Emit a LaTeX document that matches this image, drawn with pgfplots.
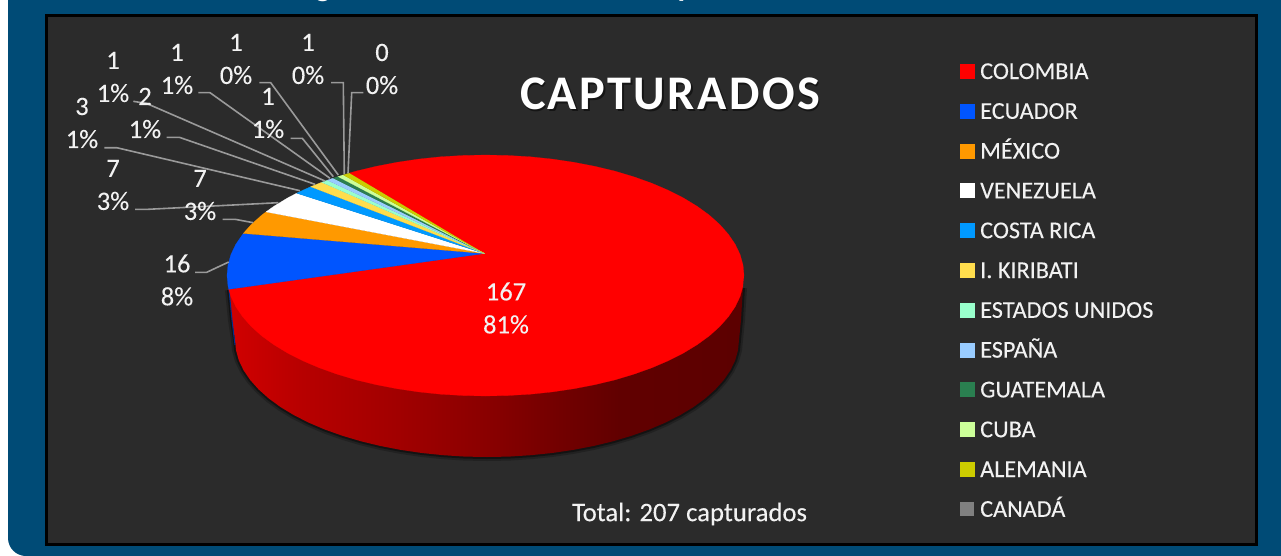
\documentclass[border=0pt]{standalone}
\usepackage{fontspec}
\setmainfont[UprightFeatures={FakeBold=0.12}]{Carlito}
\newfontfamily\titlefont[LetterSpace=5]{Carlito}
\usepackage{pgfplots}
\usepackage{pgfplotstable}
\pgfplotsset{compat=1.18}

\definecolor{navy}{HTML}{004B76}
\definecolor{panel}{HTML}{2B2B2B}
\definecolor{leader}{HTML}{9A9A9A}
\definecolor{txt}{HTML}{F2F2F2}
\definecolor{cColombia}{HTML}{FF0000}
\definecolor{cEcuador}{HTML}{0055FF}
\definecolor{cMexico}{HTML}{FF9900}
\definecolor{cVenezuela}{HTML}{FFFFFF}
\definecolor{cCosta}{HTML}{0099FF}
\definecolor{cKiribati}{HTML}{FFDD4D}
\definecolor{cEEUU}{HTML}{99FFCC}
\definecolor{cEspana}{HTML}{99CCFF}
\definecolor{cGuatemala}{HTML}{2A7F50}
\definecolor{cCuba}{HTML}{CCFF99}
\definecolor{cAlemania}{HTML}{CCCC00}
\definecolor{cCanada}{HTML}{808080}

\pgfdeclarehorizontalshading{sidered}{100bp}{
  color(0bp)=(red!82!black); color(25bp)=(red!82!black);
  color(32bp)=(red!72!black); color(41.6bp)=(red!63!black);
  color(50bp)=(red!54!black); color(57bp)=(red!45!black);
  color(63bp)=(red!38!black); color(75bp)=(red!36!black); color(100bp)=(red!36!black)}

% side wall of the pie, pixel coordinates of the picture
\pgfplotstableread{
x y
229 290
232 320
235 340
236 350.2
238.8 360.3
243.6 370.3
250.2 380
258.6 389.4
268.8 398.5
280.6 407.1
294 415.2
308.8 422.7
325 429.6
342.5 435.8
361 441.3
380.5 446
400.8 449.9
421.8 453
443.2 455.2
465 456.6
487 457
509 456.6
530.8 455.2
552.2 453
573.2 449.9
593.5 446
613 441.3
631.5 435.8
649 429.6
665.2 422.7
680 415.2
693.4 407.1
705.2 398.5
715.4 389.4
723.8 380
730.4 370.3
735.2 360.3
738 350.2
739 340
741 320
742 303
743 288
}\sidewall

% top face: Colombia, the whole ellipse, the other slices lie over it
\pgfplotstableread{
x y
744 275.5
743 265
740.1 254.6
735.2 244.3
728.4 234.3
719.8 224.6
709.4 215.2
697.3 206.4
683.5 198
668.3 190.3
651.7 183.2
633.8 176.8
614.8 171.1
594.7 166.3
573.9 162.3
552.4 159.1
530.4 156.8
508 155.5
485.5 155
463 155.5
440.6 156.8
418.6 159.1
397.1 162.3
376.3 166.3
356.2 171.1
349.3 173.1
484.5 253.5
228.7 289.3
230.9 296.4
235.8 306.7
242.6 316.7
251.2 326.4
261.6 335.8
273.7 344.6
287.5 353
302.7 360.7
319.3 367.8
337.2 374.2
356.2 379.9
376.3 384.7
397.1 388.7
418.6 391.9
440.6 394.2
463 395.5
485.5 396
508 395.5
530.4 394.2
552.4 391.9
573.9 388.7
594.7 384.7
614.8 379.9
633.8 374.2
651.7 367.8
668.3 360.7
683.5 353
697.3 344.6
709.4 335.8
719.8 326.4
728.4 316.7
735.2 306.7
740.1 296.4
743 286
}\colombia

\newcommand{\val}[4]{\node[font=\fontsize{26.5bp}{33bp}\selectfont, text=txt, align=center] at (axis cs:#1,#2) {#3\\#4};}
\newcommand{\slice}[2]{\addplot[fill=#1, draw=#1, line width=0.2bp] coordinates {#2};}
\newcommand{\leaderline}[1]{\addplot[leader, line width=1.6bp, forget plot] coordinates {#1};}

\begin{document}
\begin{tikzpicture}
\begin{axis}[
  scale only axis, width=1281bp, height=556bp,
  xmin=0, xmax=1281, ymin=0, ymax=556, y dir=reverse,
  hide axis, clip=true,
  legend image code/.code={\fill[#1] (0bp,-4.5bp) rectangle (14bp,9.5bp);},
  legend cell align=left,
  legend style={at={(axis cs:960,63)}, anchor=north west, draw=none, fill=none,
    inner sep=0pt, outer sep=0pt, row sep=18.8bp, column sep=6bp, text=txt,
    font=\fontsize{24.2bp}{26bp}\selectfont,
    nodes={inner sep=0pt, outer sep=0pt, text height=16bp, text depth=5bp}},
]
% page, frame and dark panel
\fill[white] (axis cs:0,0) rectangle (axis cs:1281,556);
\fill[navy, rounded corners=18bp] (axis cs:8,-40) rectangle (axis cs:1340,556);
\fill[navy] (axis cs:8,-40) rectangle (axis cs:40,500);
\fill[navy] (axis cs:40,-40) rectangle (axis cs:1281,556);
\draw[panel, fill=panel, draw=black, line width=3bp] (axis cs:46.5,15.3) rectangle (axis cs:1256.3,544);

% cut-off line of text above the frame
\begin{scope}
  \clip (axis cs:0,0) rectangle (axis cs:1281,4);
  \node[font=\fontsize{31bp}{31bp}\bfseries\selectfont, text=white, anchor=base] at (axis cs:323,-3) {g};
  \node[font=\fontsize{31bp}{31bp}\bfseries\selectfont, text=white, anchor=base] at (axis cs:686,-3) {p};
\end{scope}

% shadow and side wall
\addplot[black, opacity=0.22, line width=8bp, line join=round, forget plot] table {\sidewall};
\addplot[black, opacity=0.4, line width=4bp, line join=round, forget plot] table {\sidewall};
\addplot[draw=none, shading=sidered, forget plot] table {\sidewall};
\addplot[cEcuador!55!black, line width=1bp, forget plot] coordinates {(229,290)(232,320)(235,345)};

% top face, one series per country
\addplot[fill=cColombia, draw=cColombia, line width=0.2bp] table {\colombia};
\addlegendentry{COLOMBIA}
\slice{cEcuador}{(484.5,253.5)(228.7,289.3)(228,286)(227,275.5)(228,265)(230.9,254.6)(235.8,244.3)(243.3,233.4)}
\addlegendentry{ECUADOR}
\slice{cMexico}{(484.5,253.5)(243.3,233.4)(251.2,224.6)(261.6,215.2)(266,211.9)}
\addlegendentry{MÉXICO}
\slice{cVenezuela}{(484.5,253.5)(266,211.9)(273.7,206.4)(287.5,198)(296.7,193.2)}
\addlegendentry{VENEZUELA}
\slice{cCosta}{(484.5,253.5)(296.7,193.2)(302.7,190.3)(310.7,186.7)}
\addlegendentry{COSTA RICA}
\slice{cKiribati}{(484.5,253.5)(310.7,186.7)(321.7,182.3)}
\addlegendentry{I. KIRIBATI}
\slice{cEEUU}{(484.5,253.5)(321.7,182.3)(327.3,180.2)}
\addlegendentry{ESTADOS UNIDOS}
\slice{cEspana}{(484.5,253.5)(327.3,180.2)(333.3,178.1)}
\addlegendentry{ESPAÑA}
\slice{cGuatemala}{(484.5,253.5)(333.3,178.1)(338,176.6)}
\addlegendentry{GUATEMALA}
\slice{cCuba}{(484.5,253.5)(338,176.6)(343.3,174.9)}
\addlegendentry{CUBA}
\slice{cAlemania}{(484.5,253.5)(343.3,174.9)(349.3,173.1)}
\addlegendentry{ALEMANIA}
\addlegendimage{fill=cCanada, draw=none}
\addlegendentry{CANADÁ}

% leader lines
\leaderline{(195,272.3)(206.7,272.3)(228.7,262)}
\leaderline{(222.7,219.3)(235,219.3)(253.3,222.7)}
\leaderline{(135,209.3)(148.3,209.3)(278.3,202.7)}
\leaderline{(104.3,147.7)(116.7,147.7)(300,190.7)}
\leaderline{(166.7,137.3)(179.3,137.3)(315,184.3)}
\leaderline{(133.3,101.3)(146.7,103.5)(325,181)}
\leaderline{(198.3,92.7)(210,92.7)(330,178.3)}
\leaderline{(290.7,138.3)(302.3,138.3)(333.3,176.7)}
\leaderline{(259.3,82.7)(270.7,82.7)(338.3,175)}
\leaderline{(331,82.7)(343.3,82.7)(344.3,174.3)}
\leaderline{(363.3,92.7)(351.7,92.7)(348,173.3)}

% value and share of each slice
\val{506}{308}{167}{81\%}
\val{177}{280}{16}{8\%}
\val{200}{195}{7}{3\%}
\val{113}{185}{7}{3\%}
\val{82}{123}{3}{1\%}
\val{145}{113}{2}{1\%}
\val{113}{77}{1}{1\%}
\val{177}{69}{1}{1\%}
\val{268}{113}{1}{1\%}
\val{236}{59}{1}{0\%}
\val{308}{59}{1}{0\%}
\val{382}{69}{0}{0\%}

% titles
\node[font=\fontsize{48.3bp}{50bp}\bfseries\titlefont, text=black, opacity=0.5] at (axis cs:671.5,96) {CAPTURADOS};
\node[font=\fontsize{48.3bp}{50bp}\bfseries\titlefont, text=white] at (axis cs:670,94) {CAPTURADOS};
\node[font=\fontsize{26.7bp}{30bp}\selectfont, text=txt] at (axis cs:689.5,514) {Total: 207 capturados};
\end{axis}
\end{tikzpicture}
\end{document}
